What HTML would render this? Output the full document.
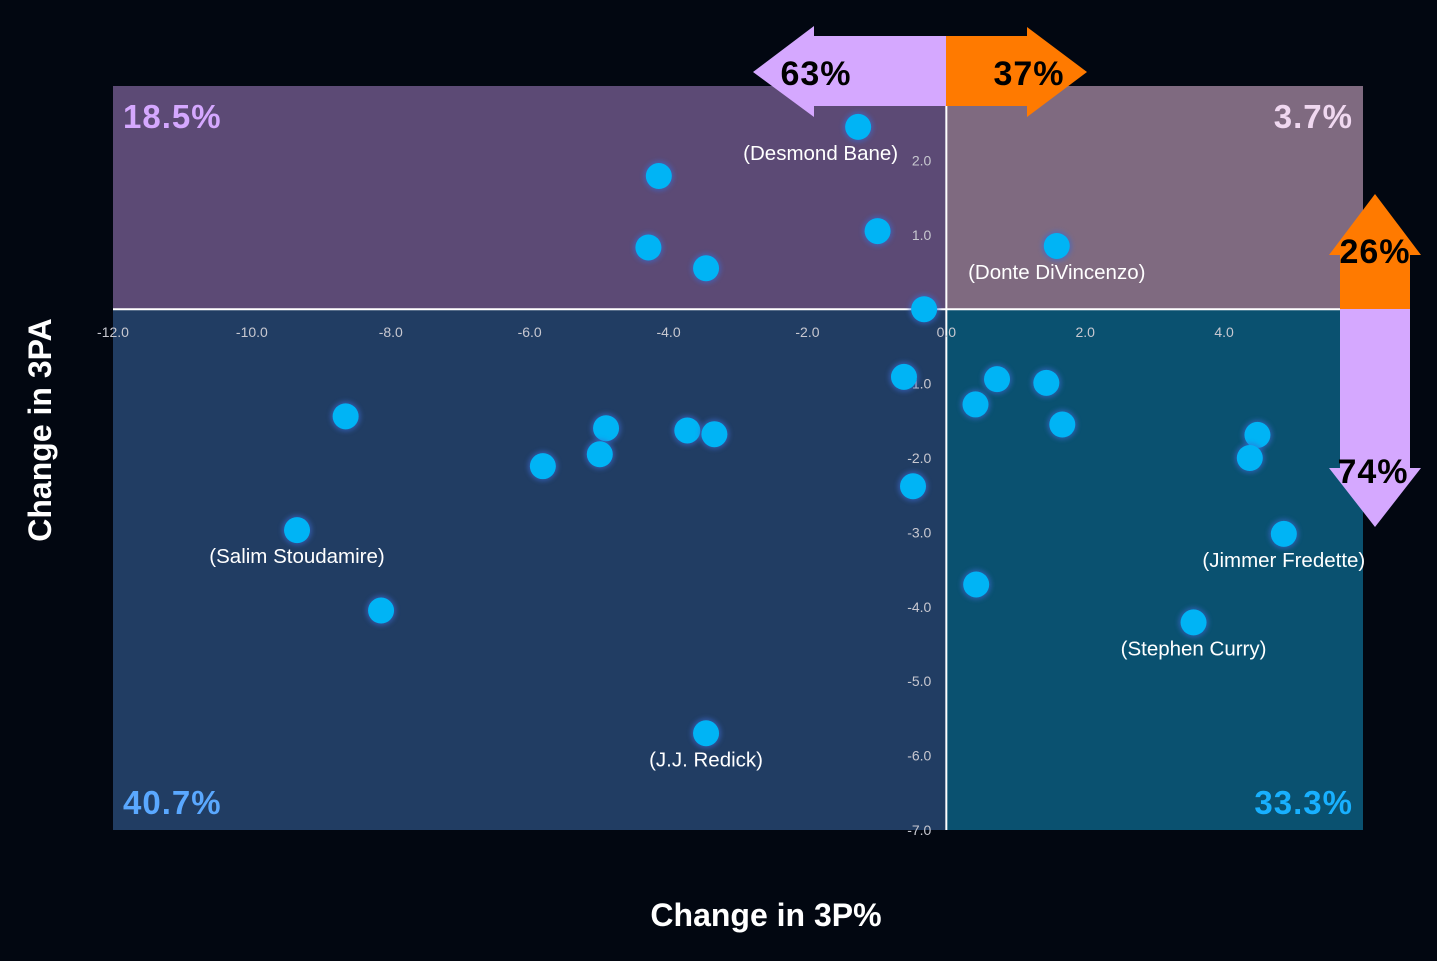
<!DOCTYPE html>
<html><head><meta charset="utf-8"><style>
html,body{margin:0;padding:0;background:#020711;}
svg{display:block;font-family:"Liberation Sans",sans-serif;}
</style></head><body>
<svg id="chart" width="1437" height="961" viewBox="0 0 1437 961">
<defs><filter id="glow" x="-50%" y="-50%" width="200%" height="200%"><feGaussianBlur stdDeviation="2.5"/></filter></defs>
<g id="quads"></g>
<g id="axes"></g>
<g id="arrows"></g>
<g id="points"></g>
<text x="766" y="926" text-anchor="middle" fill="#fff" font-size="32" font-weight="bold">Change in 3P%</text>
<text transform="translate(51,430) rotate(-90)" text-anchor="middle" fill="#fff" font-size="32" font-weight="bold">Change in 3PA</text>
</svg>
<script>
const xVals=[-1.27,-4.14,-0.99,-4.29,-3.46,-0.32,1.59,-0.61,0.42,0.73,1.44,1.67,-8.65,-4.90,-4.99,-5.81,-3.73,-3.34,-0.48,-9.35,-8.14,0.43,4.48,4.37,4.86,3.56,-3.46];
const yVals=[2.45,1.79,1.05,0.83,0.55,0.0,0.85,-0.91,-1.28,-0.94,-0.99,-1.55,-1.44,-1.60,-1.95,-2.11,-1.63,-1.68,-2.38,-2.97,-4.05,-3.70,-1.69,-2.00,-3.02,-4.21,-5.70];
const labels=["(Desmond Bane)","","","","","","(Donte DiVincenzo)","","","","","","","","","","","","","(Salim Stoudamire)","","","","","(Jimmer Fredette)","(Stephen Curry)","(J.J. Redick)"];
const xTicks=[-12,-10,-8,-6,-4,-2,0,2,4,6];
const yTicks=[3,2,1,0,-1,-2,-3,-4,-5,-6,-7];
const quadPcts=["18.5%","3.7%","40.7%","33.3%"];
const arrowPcts=["63%","37%","26%","74%"];
const NS="http://www.w3.org/2000/svg";
const X0=113,X1=1363,Y0=86,Y1=830;
const sx=v=>X0+(v+12)/18*(X1-X0);
const sy=v=>Y1-(v+7)/10*(Y1-Y0);
function mk(p,t,a){const e=document.createElementNS(NS,t);for(const k in a)e.setAttribute(k,a[k]);p.appendChild(e);return e;}
const q=document.getElementById('quads'),ax=document.getElementById('axes'),ar=document.getElementById('arrows'),pt=document.getElementById('points');
const cx=sx(0),cy=sy(0);
let r;
r=mk(q,'rect',{x:X0,y:Y0,width:cx-X0,height:cy-Y0,fill:'#5c4a75'});


r=mk(q,'rect',{x:cx,y:Y0,width:X1-cx,height:cy-Y0,fill:'#7f6a80'});


r=mk(q,'rect',{x:X0,y:cy,width:cx-X0,height:Y1-cy,fill:'#213d63'});


r=mk(q,'rect',{x:cx,y:cy,width:X1-cx,height:Y1-cy,fill:'#0a5170'});


const qp=[[123,128,'start','#d5a8ff'],[1353,128,'end','#f0d8f0'],[123,814,'start','#5aa8ff'],[1353,814,'end','#18b0ff']];
qp.forEach((p,i)=>{const t=mk(q,'text',{x:p[0],y:p[1],'text-anchor':p[2],fill:p[3],'font-size':33,'font-weight':'bold','letter-spacing':1});t.textContent=quadPcts[i];

});
let l=mk(ax,'line',{x1:X0,x2:X1,y1:cy,y2:cy,stroke:'#fff','stroke-width':2});


l=mk(ax,'line',{x1:cx,x2:cx,y1:Y0,y2:Y1,stroke:'#fff','stroke-width':2});


xTicks.forEach(v=>{const t=mk(ax,'text',{x:sx(v),y:cy+28,'text-anchor':'middle',fill:'#c8c8d0','font-size':14});t.textContent=v.toFixed(1);

});
yTicks.forEach(v=>{const t=mk(ax,'text',{x:cx-15,y:sy(v)+5,'text-anchor':'end',fill:'#c8c8d0','font-size':14});t.textContent=v.toFixed(1);

});
const A=[
 ['753,72 814,26 814,36 946,36 946,106 814,106 814,117','#d5a8ff',[816,85]],
 ['946,36 1027,36 1027,27 1087,72 1027,117 1027,106 946,106','#ff7a00',[1029,85]],
 ['1340,309 1340,255 1329,255 1375,194 1421,255 1410,255 1410,309','#ff7a00',[1375,263]],
 ['1340,309 1410,309 1410,468 1421,468 1375,527 1329,468 1340,468','#d5a8ff',[1373,483]]];
A.forEach((a,i)=>{const p=mk(ar,'polygon',{points:a[0],fill:a[1]});


const t=mk(ar,'text',{x:a[2][0],y:a[2][1],'text-anchor':'middle',fill:'#000','font-size':34,'font-weight':'bold','letter-spacing':1});t.textContent=arrowPcts[i];

});
xVals.forEach((v,i)=>{const x=sx(v),y=sy(yVals[i]);
const g=mk(pt,'circle',{cx:x,cy:y,r:15,fill:'#3a6ad0',opacity:0.6,filter:'url(#glow)'});


const c=mk(pt,'circle',{cx:x,cy:y,r:13,fill:'#00b4f5'});


if(labels[i]){const left=(i===0);
const t=mk(pt,'text',{x:left?x+40:x,y:y+33,'text-anchor':left?'end':'middle',fill:'#fff','font-size':20.5});t.textContent=labels[i];

}});
</script>
</body></html>
